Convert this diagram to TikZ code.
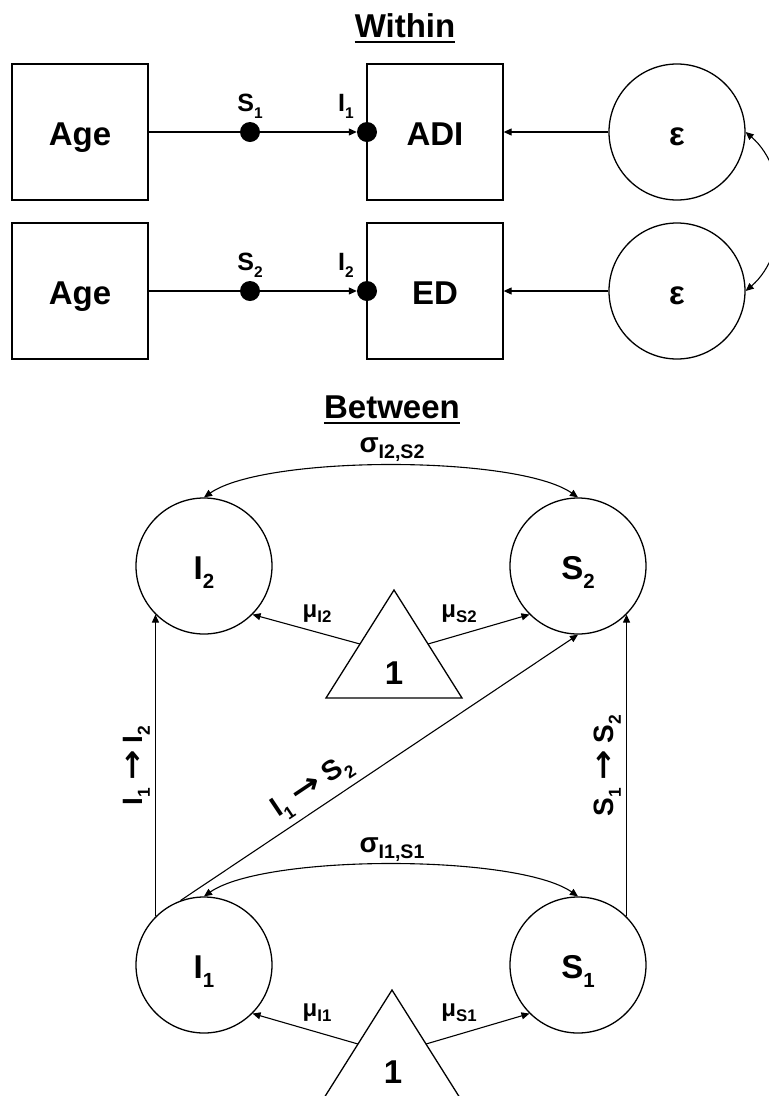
\documentclass[tikz,border=0pt]{standalone}
\usepackage{fontspec}
\usepackage{graphicx}
\setmainfont{Liberation Sans}
\newfontfamily\dejavu{DejaVu Sans}
\usetikzlibrary{arrows.meta,calc}
\newcommand\sbx[1]{\raisebox{-0.28em}{\scalebox{0.62}{#1}}}
\newcommand\sbs[1]{\raisebox{-0.22em}{\scalebox{0.7}{#1}}}
\newcommand\rarr{\hspace{0.25em}{\dejavu\bfseries\scalebox{1.3}[1.1]{→}}\hspace{0.25em}}
\tikzset{
  bigf/.style={font=\bfseries\fontsize{33}{36}\selectfont},
  box/.style={draw, line width=1.3pt, minimum width=136pt, minimum height=136pt, inner sep=0pt, text height=26pt, text depth=0pt, bigf},
  circ/.style={draw, circle, line width=1.3pt, minimum size=136pt, inner sep=0pt, text height=26pt, text depth=0pt, bigf},
  dotn/.style={circle, fill=black, minimum size=20pt, inner sep=0pt},
  lab/.style={font=\bfseries\fontsize{25}{27}\selectfont, inner sep=0pt},
  mulab/.style={font=\bfseries\fontsize{24}{26}\selectfont, inner sep=0pt},
  siglab/.style={font=\bfseries\fontsize{28}{30}\selectfont, inner sep=0pt},
  pathlab/.style={font=\bfseries\fontsize{28}{30}\selectfont, inner sep=0pt},
  title/.style={bigf, inner sep=0pt},
  ln/.style={line width=1.1pt},
  arr/.style={line width=1.1pt, -{Triangle[length=8pt,width=7pt]}},
  darr/.style={line width=1.1pt, {Triangle[length=8pt,width=7pt]}-{Triangle[length=8pt,width=7pt]}},
  tri/.style={line width=1.3pt, line join=miter},
}
\begin{document}
\begin{tikzpicture}[x=1pt,y=-1pt]
\useasboundingbox (0,0) rectangle (769,1096);

% ---------- Within ----------
\node[title, anchor=base] (within) at (405,37) {Within};
\draw[line width=2.5pt] ([yshift=-5pt]within.base west) -- ([yshift=-5pt]within.base east);

\node[box] (age1) at (80,132) {Age};
\node[box] (adi) at (435,132) {ADI};
\node[dotn] (s1d) at (250,132) {};
\node[dotn] (i1d) at (367,132) {};
\node[circ] (e1) at (677,132) {ε};
\node[lab, anchor=base] (s1l) at (250,111) {S\sbx{1}};
\node[lab, anchor=base] (i1l) at (346,111) {I\sbx{1}};

\node[box] (age2) at (80,291) {Age};
\node[box] (ed) at (435,291) {ED};
\node[dotn] (s2d) at (250,291) {};
\node[dotn] (i2d) at (367,291) {};
\node[circ] (e2) at (677,291) {ε};
\node[lab, anchor=base] (s2l) at (250,270) {S\sbx{2}};
\node[lab, anchor=base] (i2l) at (346,270) {I\sbx{2}};

\draw[ln] (age1) -- (s1d);
\draw[arr] (s1d) -- (i1d);
\draw[arr] (e1) -- (adi);
\draw[ln] (age2) -- (s2d);
\draw[arr] (s2d) -- (i2d);
\draw[arr] (e2) -- (ed);
\draw[darr] (e1.east) .. controls (790,170) and (790,253) .. (e2.east);

% ---------- Between ----------
\node[title, anchor=base] (between) at (392,418) {Between};
\draw[line width=2.5pt] ([yshift=-5pt]between.base west) -- ([yshift=-5pt]between.base east);

\node[circ] (i2) at (204,566) {I\sbx{2}};
\node[circ] (s2) at (578,566) {S\sbx{2}};
\node[circ] (i1) at (204,965) {I\sbx{1}};
\node[circ] (s1) at (578,965) {S\sbx{1}};

% triangles
\coordinate (t2a) at (394,590);
\coordinate (t2l) at (326,698);
\coordinate (t2r) at (462,698);
\draw[tri] (t2a) -- (t2l) -- (t2r) -- cycle;
\coordinate (t2lm) at ($(t2a)!0.5!(t2l)$);
\coordinate (t2rm) at ($(t2a)!0.5!(t2r)$);
\node[bigf, anchor=base] (one2) at (394,684) {1};

\coordinate (t1a) at (392,990);
\coordinate (t1l) at (324,1098);
\coordinate (t1r) at (460,1098);
\draw[tri] (t1a) -- (t1l) -- (t1r) -- cycle;
\coordinate (t1lm) at ($(t1a)!0.5!(t1l)$);
\coordinate (t1rm) at ($(t1a)!0.5!(t1r)$);
\node[bigf, anchor=base] (one1) at (393,1083) {1};

% covariances
\draw[darr] (i2.north) .. controls (265,455) and (517,455) .. (s2.north);
\node[siglab, anchor=base] (sig2) at (392,452) {σ\sbs{I2,S2}};
\draw[darr] (i1.north) .. controls (265,854) and (517,854) .. (s1.north);
\node[siglab, anchor=base] (sig1) at (392,852) {σ\sbs{I1,S1}};

% means
\draw[arr] (t2lm) -- (i2.south east);
\draw[arr] (t2rm) -- (s2.south west);
\node[mulab, anchor=base] (mui2) at (317,617) {μ\sbs{I2}};
\node[mulab, anchor=base] (mus2) at (459,617) {μ\sbs{S2}};
\draw[arr] (t1lm) -- (i1.south east);
\draw[arr] (t1rm) -- (s1.south west);
\node[mulab, anchor=base] (mui1) at (317,1016) {μ\sbs{I1}};
\node[mulab, anchor=base] (mus1) at (459,1016) {μ\sbs{S1}};

% paths
\draw[arr] (i1.north west) -- (i2.south west)
  node[pathlab, midway, sloped, above=5pt] (lii) {I\sbx{1}\rarr I\sbx{2}};
\draw[arr] (s1.north east) -- (s2.south east)
  node[pathlab, midway, sloped, above=5pt] (lss) {S\sbx{1}\rarr S\sbx{2}};
\draw[arr] (i1.110) -- (s2.south)
  node[pathlab, pos=0.36, sloped, above=6pt] (lis) {I\sbx{1}\rarr S\sbx{2}};
\end{tikzpicture}
\end{document}
